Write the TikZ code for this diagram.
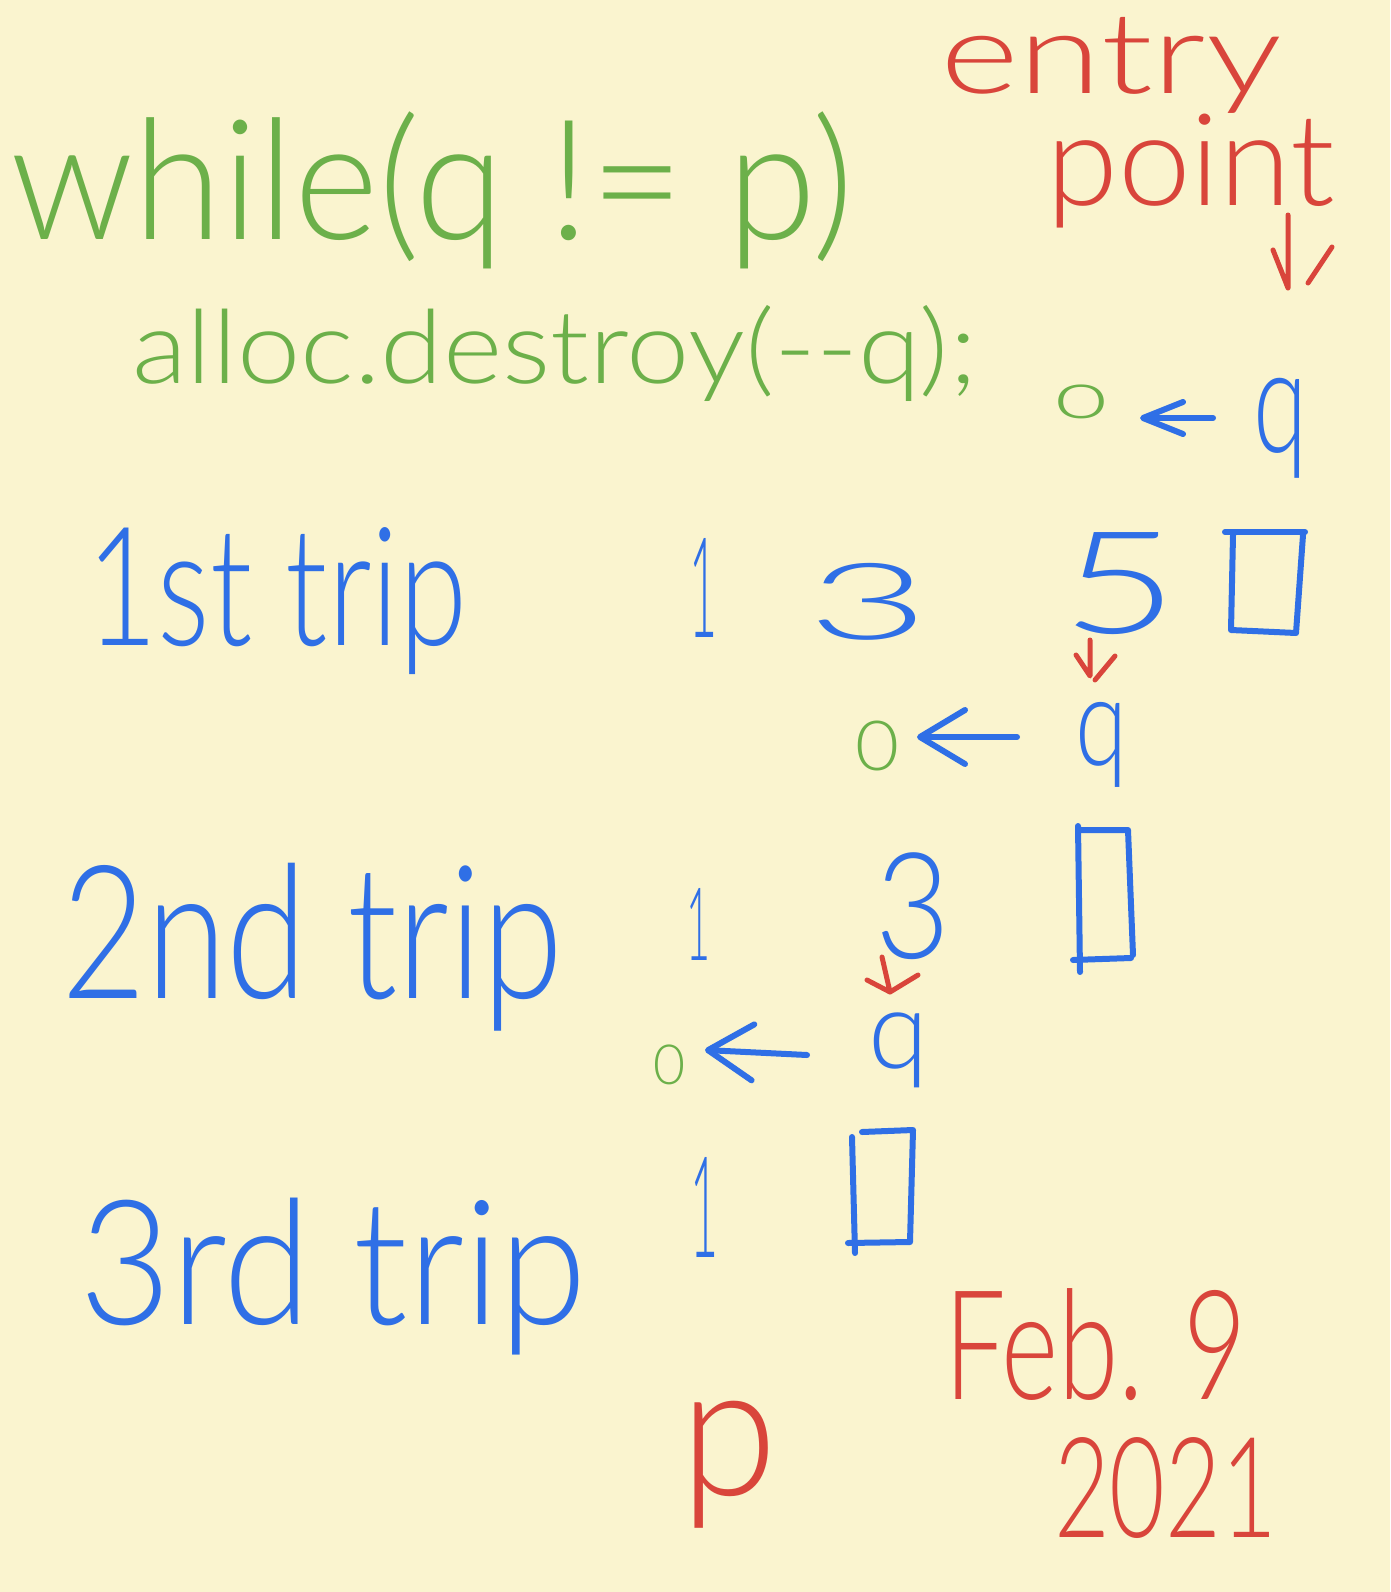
\documentclass[tikz,border=0pt]{standalone}
\usepackage{fontspec}
\IfFontExistsTF{Lato Light}{\setmainfont{Lato Light}}{%
  \IfFontExistsTF{Open Sans Light}{\setmainfont{Open Sans Light}}{%
    \IfFontExistsTF{DejaVu Sans ExtraLight}{\setmainfont{DejaVu Sans ExtraLight}}{%
      \setmainfont{Fira Sans}}}}
\usetikzlibrary{arrows.meta}
\definecolor{bg}{HTML}{FAF4CF}
\definecolor{pgreen}{HTML}{6CB04A}
\definecolor{pblue}{HTML}{2F6FE6}
\definecolor{pred}{HTML}{D9453B}
\newcommand{\fitbox}[3]{\resizebox*{#1pt}{#2pt}{#3}}
\begin{document}
\begin{tikzpicture}[x=1pt,y=-1pt,
  hand/.style={inner sep=0pt, outer sep=0pt, anchor=north west},
  pen/.style={line width=6pt, line cap=round, line join=round},
  redpen/.style={line width=5pt, line cap=round, line join=round, draw=pred},
  bluepen/.style={pen, draw=pblue}]
\fill[bg] (0,0) rectangle (1390,1592);
\useasboundingbox (0,0) rectangle (1390,1592);

% code
\node[hand,text=pgreen] (while) at (10,112) {\fitbox{843}{157}{while(q != p)}};
\node[hand,text=pgreen] (destroy) at (132,305) {\fitbox{845}{96}{alloc.destroy(-{}-q);}};

% entry point
\node[hand,text=pred] (entry) at (940,17) {\fitbox{342}{96}{entry}};
\node[hand,text=pred] (point) at (1046,114) {\fitbox{289}{114}{point}};

% initial state
\node[hand,text=pgreen] (o1) at (1053,385) {\fitbox{56}{34}{o}};
\node[hand,text=pblue] (q1) at (1253,378) {\fitbox{54}{100}{q}};

% 1st trip
\node[hand,text=pblue] (trip1) at (86,528) {\fitbox{381}{147}{1st trip}};
\node[hand,text=pblue] (r1a) at (689,538) {\fitbox{28}{99}{1}};
\node[hand,text=pblue] (r1b) at (807,563) {\fitbox{122}{77}{3}};
\node[hand,text=pblue] (r1c) at (1061,533) {\fitbox{117}{102}{5}};
\node[hand,text=pgreen] (o2) at (855,721) {\fitbox{44}{50}{0}};
\node[hand,text=pblue] (q2) at (1075,702) {\fitbox{52}{85}{q}};

% 2nd trip
\node[hand,text=pblue] (trip2) at (61,863) {\fitbox{502}{168}{2nd trip}};
\node[hand,text=pblue] (r2a) at (686,888) {\fitbox{24}{72}{1}};
\node[hand,text=pblue] (r2b) at (875,853) {\fitbox{75}{107}{3}};
\node[hand,text=pgreen] (o3) at (653,1045) {\fitbox{32}{40}{0}};
\node[hand,text=pblue] (q3) at (868,1013) {\fitbox{60}{75}{q}};

% 3rd trip
\node[hand,text=pblue] (trip3) at (79,1198) {\fitbox{508}{157}{3rd trip}};
\node[hand,text=pblue] (r3a) at (690,1157) {\fitbox{28}{100}{1}};

% p and date
\node[hand,text=pred] (pend) at (680,1401) {\fitbox{97}{127}{p}};
\node[hand,text=pred] (feb) at (944,1289) {\fitbox{303}{112}{Feb. 9}};
\node[hand,text=pred] (year) at (1054,1437) {\fitbox{223}{101}{2021}};

% end boxes
\draw[bluepen] (1225,532) -- (1305,532);
\draw[bluepen] (1233,535) -- (1231,630) -- (1296,633) -- (1303,535);
\draw[bluepen] (1078,826) -- (1080,972);
\draw[bluepen] (1080,830) -- (1128,830) -- (1133,955);
\draw[bluepen] (1073,960) -- (1131,958);
\draw[bluepen] (852,1137) -- (855,1253);
\draw[bluepen] (862,1132) -- (913,1130) -- (910,1242) -- (848,1243);

% blue arrows q -> o
\coordinate (a1s) at (1213,418); \coordinate (a1e) at (1140,418);
\coordinate (a2s) at (1017,737); \coordinate (a2e) at (917,737);
\coordinate (a3s) at (807,1055); \coordinate (a3e) at (705,1050);
\draw[pen, draw=pblue, -{Straight Barb[round,length=40pt,width=32pt]}] (a1s) -- (a1e);
\draw[pen, draw=pblue, -{Straight Barb[round,length=45pt,width=54pt]}] (a2s) -- (a2e);
\draw[pen, draw=pblue, -{Straight Barb[round,length=45pt,width=56pt]}] (a3s) -- (a3e);

% red arrows
\coordinate (e0) at (1288,215); \coordinate (e1) at (1288,288);
\draw[redpen] (e0) -- (e1) -- (1273,250);
\draw[redpen] (1332,247) -- (1308,283);
\coordinate (f0) at (1090,640); \coordinate (f1) at (1090,676);
\draw[redpen] (f0) -- (f1) -- (1076,655);
\draw[redpen] (1115,656) -- (1095,680);
\coordinate (g0) at (882,957); \coordinate (g1) at (890,992);
\draw[redpen] (g0) -- (g1) -- (867,980);
\draw[redpen] (g1) -- (918,975);
\end{tikzpicture}
\end{document}
